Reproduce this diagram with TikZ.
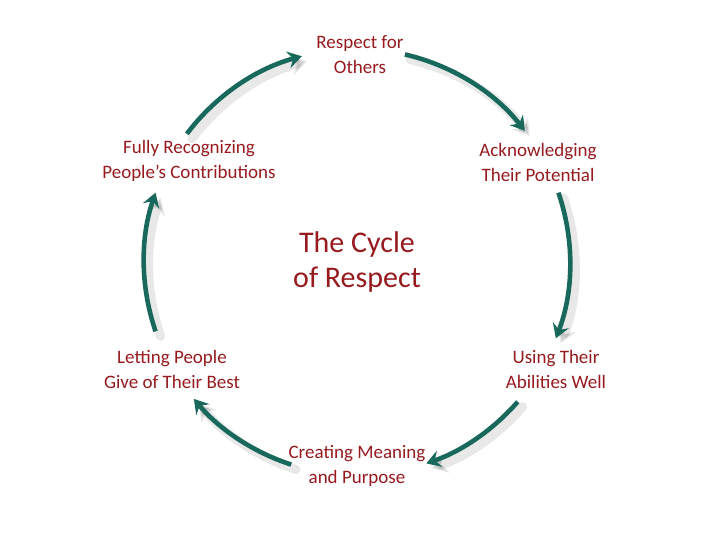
\documentclass[tikz,border=0pt]{standalone}
\usepackage{fontspec}
\setmainfont{Carlito}
\usetikzlibrary{arrows.meta}
\definecolor{respectred}{RGB}{150,26,30}
\definecolor{cycleteal}{RGB}{24,104,92}
\begin{document}
\begin{tikzpicture}[x=0.5pt, y=0.5pt,
    label/.style={text=respectred, align=center, font=\fontsize{9.5}{12.5}\selectfont},
    cyclearrow/.style={draw=cycleteal, line width=2.3pt, -{Stealth[length=7pt, width=8.5pt, inset=2.5pt]}},
    shadearrow/.style={draw=black, opacity=0.09, line width=4.5pt, line cap=round, -{Stealth[length=8pt, width=10pt, inset=2.5pt]}}]
    \useasboundingbox (0,0) rectangle (720,540);
    \def\rad{106.5pt}
    \coordinate (ctr) at (357,278);
    % 标题
    \node[label, font=\fontsize{15}{17.5}\selectfont] (title) at (357,278) {The Cycle\\of Respect};
    % 六个阶段
    \node[label] (resp)  at (360,485) {Respect for\\Others};
    \node[label] (ackn)  at (538,378) {Acknowledging\\Their Potential};
    \node[label] (abil)  at (556,171) {Using Their\\Abilities Well};
    \node[label] (mean)  at (357,74)  {Creating Meaning\\and Purpose};
    \node[label] (best)  at (172,171) {Letting People\\Give of Their Best};
    \node[label] (contr) at (189,379) {Fully Recognizing\\People's Contributions};
    % 圆弧箭头（顺时针）
    \foreach \s/\e [count=\i] in {143/105, 77/38, 19/-21, -41/-71, -108/-140, 199/161} {
        \coordinate (from\i) at ([shift={(\s:\rad)}]ctr);
        \draw[shadearrow] ([xshift=2.5pt, yshift=-2.5pt]from\i) arc[start angle=\s, end angle=\e, radius=\rad];
        \draw[cyclearrow] (from\i) arc[start angle=\s, end angle=\e, radius=\rad];
    }
\end{tikzpicture}
\end{document}
